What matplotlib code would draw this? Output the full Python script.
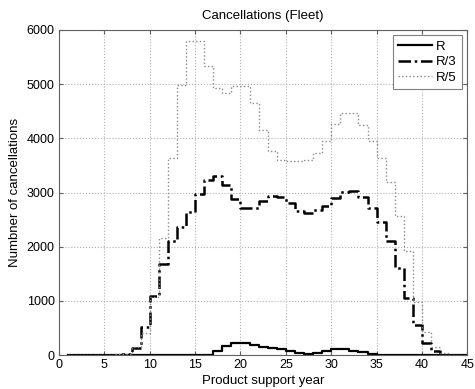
import numpy as np
import matplotlib
matplotlib.use("Agg")
from matplotlib import pyplot as plt

plt.rcParams['font.family'] = ['Liberation Sans', 'DejaVu Sans']

# support year (start of each step), steps run to year 45
years = np.arange(1, 46)

r_full = [0, 0, 0, 0, 0, 0, 0, 0, 0, 0,
          0, 0, 0, 0, 0, 10, 80, 172, 216, 216,
          185, 153, 135, 111, 74, 43, 18, 43, 74, 111,
          111, 80, 50, 15, 5, 5, 0, 0, 0, 0,
          0, 0, 0, 0, 0]

r_third = [0, 0, 0, 0, 0, 0, 20, 140, 520, 1090,
           1680, 2100, 2370, 2640, 2970, 3230, 3300, 3140, 2880, 2710,
           2710, 2840, 2945, 2920, 2800, 2662, 2630, 2680, 2754, 2896,
           3007, 3030, 2915, 2723, 2465, 2107, 1614, 1060, 555, 230,
           74, 10, 0, 0, 0]

r_fifth = [0, 0, 0, 0, 0, 20, 30, 150, 400, 1080,
           2170, 3635, 4990, 5800, 5800, 5330, 4930, 4840, 4970, 4970,
           4650, 4160, 3760, 3600, 3573, 3573, 3604, 3728, 3943, 4264,
           4467, 4467, 4251, 3943, 3635, 3203, 2575, 1922, 985, 431,
           153, 43, 10, 10, 10]

fig = plt.figure(figsize=(4.75, 3.89), dpi=100)
ax = fig.add_axes([0.124, 0.087, 0.860, 0.836])

ax.plot(years, r_full, drawstyle='steps-post', color='black', lw=1.6, label='R')
ax.plot(years, r_third, drawstyle='steps-post', color='black', lw=1.8,
        linestyle=(0, (5, 1.5, 1, 1.5)), label='R/3')
ax.plot(years, r_fifth, drawstyle='steps-post', color='#8a8a8a', lw=1.0,
        linestyle=':', label='R/5')

ax.set_xlim(0, 45)
ax.set_ylim(0, 6000)
ax.set_xticks(np.arange(0, 46, 5))
ax.set_yticks(np.arange(0, 6001, 1000))
ax.tick_params(direction='in', labelsize=9, length=3, top=True, right=True,
               pad=3, color='#606060')
for sp in ax.spines.values():
    sp.set_color('#606060')
    sp.set_linewidth(0.8)
ax.grid(True, linestyle=':', color='#b0b0b0', lw=0.8)

ax.set_title('Cancellations (Fleet)', fontsize=9.5, pad=8)
ax.set_xlabel('Product support year', fontsize=9.5, labelpad=3)
ax.set_ylabel('Numbner of cancellations', fontsize=9.5, labelpad=4)

leg = ax.legend(loc='upper right', fontsize=9.5, fancybox=False,
                framealpha=1, edgecolor='#808080', handlelength=2.6,
                borderaxespad=0.4, labelspacing=0.25, handletextpad=0.3)
leg.get_frame().set_linewidth(0.8)

fig.savefig('out.png', dpi=100)
plt.close('all')
